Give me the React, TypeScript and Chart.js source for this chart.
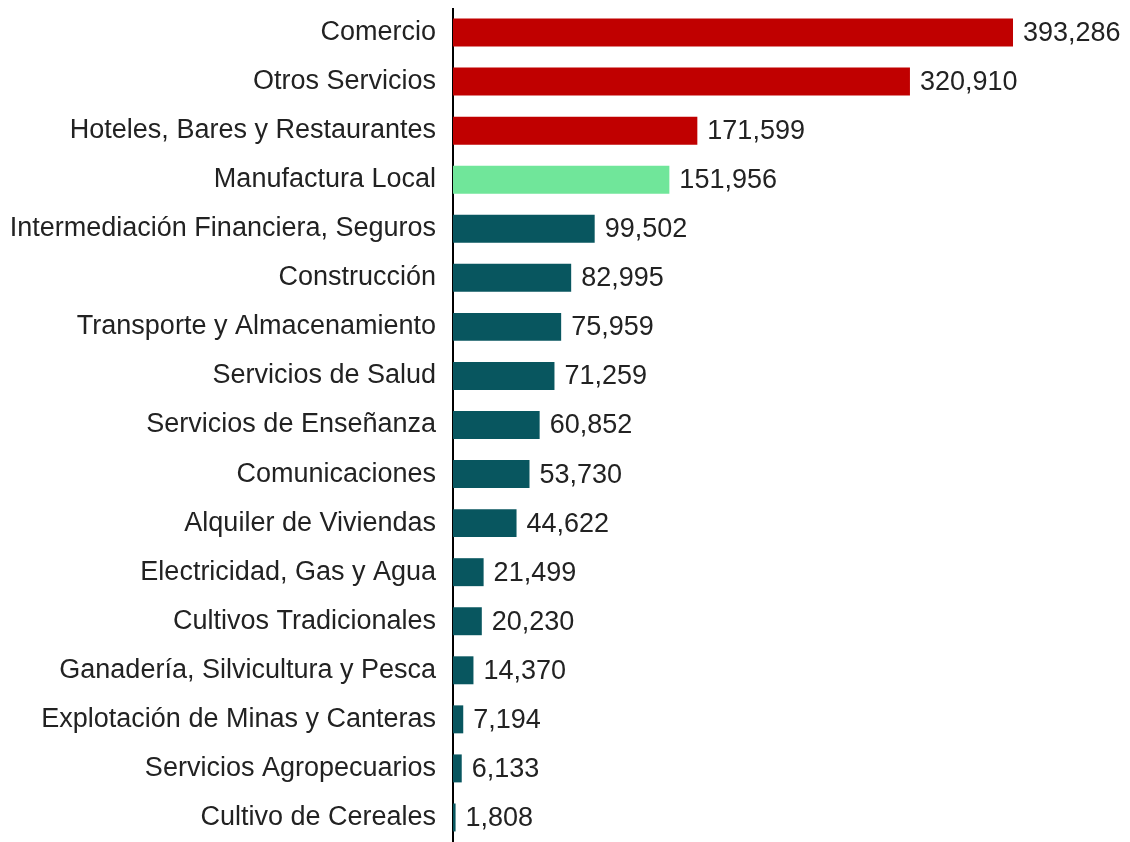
import React, { useEffect, useRef } from "react";
import { Chart, registerables } from "chart.js";

Chart.register(...registerables);

const categories = [
  "Comercio",
  "Otros Servicios",
  "Hoteles, Bares y Restaurantes",
  "Manufactura Local",
  "Intermediación Financiera, Seguros",
  "Construcción",
  "Transporte y Almacenamiento",
  "Servicios de Salud",
  "Servicios de Enseñanza",
  "Comunicaciones",
  "Alquiler de Viviendas",
  "Electricidad, Gas y Agua",
  "Cultivos Tradicionales",
  "Ganadería, Silvicultura y Pesca",
  "Explotación de Minas y Canteras",
  "Servicios Agropecuarios",
  "Cultivo de Cereales",
];

const values = [
  393286, 320910, 171599, 151956, 99502, 82995, 75959, 71259, 60852, 53730,
  44622, 21499, 20230, 14370, 7194, 6133, 1808,
];

const RED = "#C00000";
const GREEN = "#70E69A";
const TEAL = "#08565F";
const barColors = values.map((_, i) => (i < 3 ? RED : i === 3 ? GREEN : TEAL));

const FONT = "'Liberation Sans', Arial, sans-serif";

const valueLabels = {
  id: "valueLabels",
  afterDatasetsDraw(chart: any) {
    const ctx = chart.ctx;
    const meta = chart.getDatasetMeta(0);
    ctx.save();
    ctx.font = `27px ${FONT}`;
    ctx.fillStyle = "#222";
    ctx.textAlign = "left";
    ctx.textBaseline = "middle";
    meta.data.forEach((bar: any, i: number) => {
      ctx.fillText(values[i].toLocaleString("en-US"), bar.x + 10, bar.y + 1);
    });
    ctx.restore();
  },
};

export default function App() {
  const ref = useRef<HTMLCanvasElement>(null);
  useEffect(() => {
    if (!ref.current) return;
    const chart = new Chart(ref.current, {
      type: "bar",
      data: {
        labels: categories,
        datasets: [
          {
            data: values,
            backgroundColor: barColors,
            barPercentage: 0.57,
            categoryPercentage: 1,
          },
        ],
      },
      options: {
        indexAxis: "y",
        animation: false,
        responsive: false,
        maintainAspectRatio: false,
        layout: { padding: 0 },
        plugins: {
          legend: { display: false },
          tooltip: { enabled: false },
        },
        scales: {
          x: {
            display: false,
            min: 0,
            max: 475450,
          },
          y: {
            afterFit: (scale: any) => {
              scale.width = 445;
              scale.paddingTop = 0;
              scale.paddingBottom = 0;
            },
            grid: { display: false, drawTicks: false },
            border: { display: true, color: "#000", width: 2 },
            ticks: {
              padding: 17,
              color: "#222",
              font: { family: FONT, size: 27 },
            },
          },
        },
      },
      plugins: [valueLabels],
    });
    return () => chart.destroy();
  }, []);
  return <canvas ref={ref} width={1122} height={834} style={{ display: "block" }} />;
}
